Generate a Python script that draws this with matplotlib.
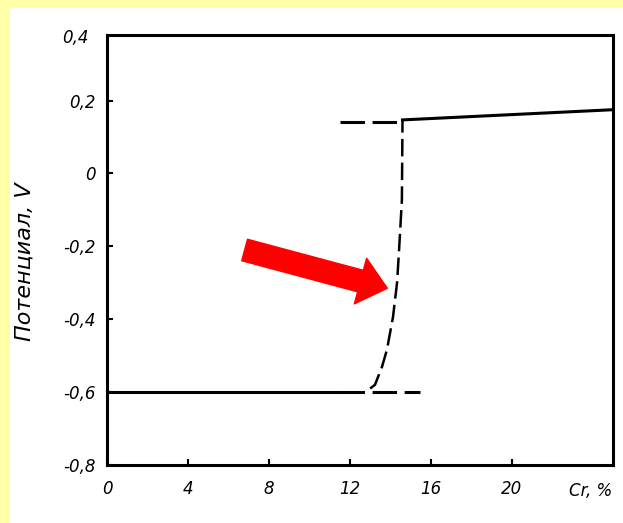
import numpy as np
import matplotlib.pyplot as plt
from matplotlib.patches import Rectangle

# Cr content (%) vs potential (V)
low_x = [0, 11.5]            # solid part
low_y = [-0.6, -0.6]
low_dash_x = [11.5, 15.45]   # extrapolated part, dashed
low_dash_y = [-0.6, -0.6]

rise_x = [13.0, 13.24, 13.59, 13.83, 14.13, 14.33, 14.43, 14.57, 14.6]
rise_y = [-0.59, -0.58, -0.53, -0.484, -0.394, -0.30, -0.21, -0.073, 0.145]

high_dash_x = [11.5, 14.6]
high_dash_y = [0.142, 0.142]
high_x = [14.6, 25]
high_y = [0.147, 0.175]

xticks = [0, 4, 8, 12, 16, 20]
yticks = [-0.8, -0.6, -0.4, -0.2, 0, 0.2]
ytick_labels = ["-0,8", "-0,6", "-0,4", "-0,2", "0", "0,2"]

fig = plt.figure(figsize=(6.23, 5.23), dpi=100)
fig.patch.set_facecolor("#ffffa8")
fig.add_artist(Rectangle((10 / 623, 0), 1, 1 - 8 / 523, transform=fig.transFigure,
                         facecolor="white", edgecolor="none", zorder=0))

ax = fig.add_axes([107 / 623, 58 / 523, 506 / 623, 430 / 523])
ax.set_facecolor("white")

ax.plot(low_x, low_y, color="black", lw=2.2)
ax.plot(low_dash_x, low_dash_y, color="black", lw=2.2, dashes=(8, 2.5))
ax.plot(rise_x, rise_y, color="black", lw=1.8, dashes=(7, 2.5))
ax.plot(high_dash_x, high_dash_y, color="black", lw=2.2, dashes=(8, 2.5))
ax.plot(high_x, high_y, color="black", lw=2.2)

# red arrow pointing at the steep part of the curve
ax.annotate("", xy=(13.85, -0.315), xytext=(6.8, -0.21),
            arrowprops=dict(facecolor="red", edgecolor="red", width=16,
                            headwidth=34, headlength=20, shrink=0))

ax.set_xlim(0, 25)
ax.set_ylim(-0.8, 0.38)
ax.set_xticks(xticks)
ax.set_xticklabels([str(t) for t in xticks])
ax.set_yticks(yticks)
ax.set_yticklabels(ytick_labels)
ax.text(-0.9, 0.372, "0,4", ha="right", va="center", fontsize=12, style="italic")
ax.text(23.9, -0.872, "Cr, %", ha="center", va="center", fontsize=12, style="italic")

for lab in ax.get_xticklabels() + ax.get_yticklabels():
    lab.set_fontstyle("italic")
    lab.set_fontsize(12)
ax.tick_params(direction="in", length=4, width=1.5, pad=8)
ax.tick_params(axis="x", pad=11)

for sp in ax.spines.values():
    sp.set_linewidth(2.2)

fig.text(25 / 623, 0.5, "Потенциал, V", rotation=90, ha="center", va="center",
         fontsize=16, style="italic")

fig.savefig("out.png", dpi=100, facecolor=fig.get_facecolor())
